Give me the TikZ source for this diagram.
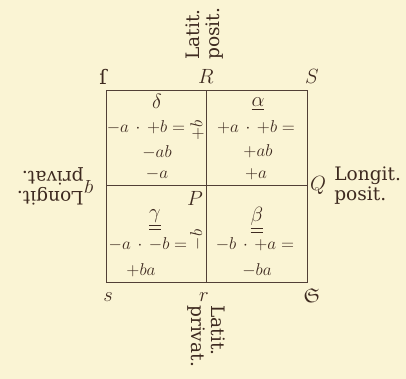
\documentclass[tikz,border=0pt]{standalone}
\usepackage{amssymb}
\usepackage{fontspec}
\setmainfont{DejaVu Serif}
\definecolor{paper}{RGB}{250,244,212}
\definecolor{ink}{RGB}{62,42,32}

\begin{document}
\begin{tikzpicture}[x=0.7pt,y=-0.7pt,every node/.style={text=ink,inner sep=0pt},
  corner/.style={font=\fontsize{14}{16}\selectfont},
  axis/.style={font=\fontsize{13}{14}\selectfont,align=left},
  entry/.style={font=\fontsize{12}{14}\selectfont},
  letter/.style={font=\fontsize{14}{16}\selectfont},
  frame/.style={draw=ink!90,line width=0.65pt}]
  \fill[paper] (0,0) rectangle (406,379);
  \useasboundingbox (0,0) rectangle (406,379);
  % frame of the four quadrants
  \coordinate (nw) at (106,90);
  \coordinate (se) at (307,282);
  \coordinate (n) at (206,90);
  \coordinate (s) at (206,282);
  \coordinate (w) at (106,185);
  \coordinate (e) at (307,185);
  \draw[frame] (nw) rectangle (se);
  \draw[frame] (n) -- (s);
  \draw[frame] (w) -- (e);
  % corner letters
  \node[corner] (mark) at (103,77) {ſ};
  \node[corner] (R) at (206,76) {$R$};
  \node[corner] (S) at (312,76) {$S$};
  \node[corner] (Q) at (318,185) {$Q$};
  \node[corner,rotate=180] (q) at (89,187) {$q$};
  \node[corner] (P) at (195,198) {$P$};
  \node[corner] (s) at (108,297) {$s$};
  \node[corner] (r) at (204,297) {$r$};
  \node[corner] (Sfrak) at (312,296) {$\mathfrak{S}$};
  % axis labels
  \node[axis,rotate=90,anchor=west] (latpos) at (205,60) {Latit.\\posit.};
  \node[axis,rotate=-90,anchor=west] (latpriv) at (206,305) {Latit.\\privat.};
  \node[axis,anchor=west] (longpos) at (334,186) {Longit.\\posit.};
  \node[axis,rotate=180,anchor=west] (longpriv) at (84,186) {Longit.\\privat.};
  % quadrant delta
  \node[letter] (delta) at (157,101) {$\delta$};
  \node[entry] (d1) at (146,127) {$-a\,\cdot\,{+b}=$};
  \node[entry,rotate=90] (d1r) at (197,130) {$+b$};
  \node[entry] (d2) at (157,152) {$-ab$};
  \node[entry] (d3) at (157,174) {$-a$};
  % quadrant alpha
  \node[letter] (alpha) at (258,104) {$\underline{\alpha}$};
  \node[entry] (a1) at (256,127) {$+a\,\cdot\,{+b}=$};
  \node[entry] (a2) at (258,151) {$+ab$};
  \node[entry] (a3) at (256,174) {$+a$};
  % quadrant gamma
  \node[letter] (gamma) at (155,220) {$\underline{\underline{\gamma}}$};
  \node[entry] (g1) at (148,244) {$-a\,\cdot\,{-b}=$};
  \node[entry,rotate=90] (g1r) at (197,240) {$-b$};
  \node[entry] (g2) at (141,270) {$+ba$};
  % quadrant beta
  \node[letter] (beta) at (257,220) {$\underline{\underline{\beta}}$};
  \node[entry] (b1) at (255,244) {$-b\,\cdot\,{+a}=$};
  \node[entry] (b2) at (257,270) {$-ba$};
\end{tikzpicture}
\end{document}
